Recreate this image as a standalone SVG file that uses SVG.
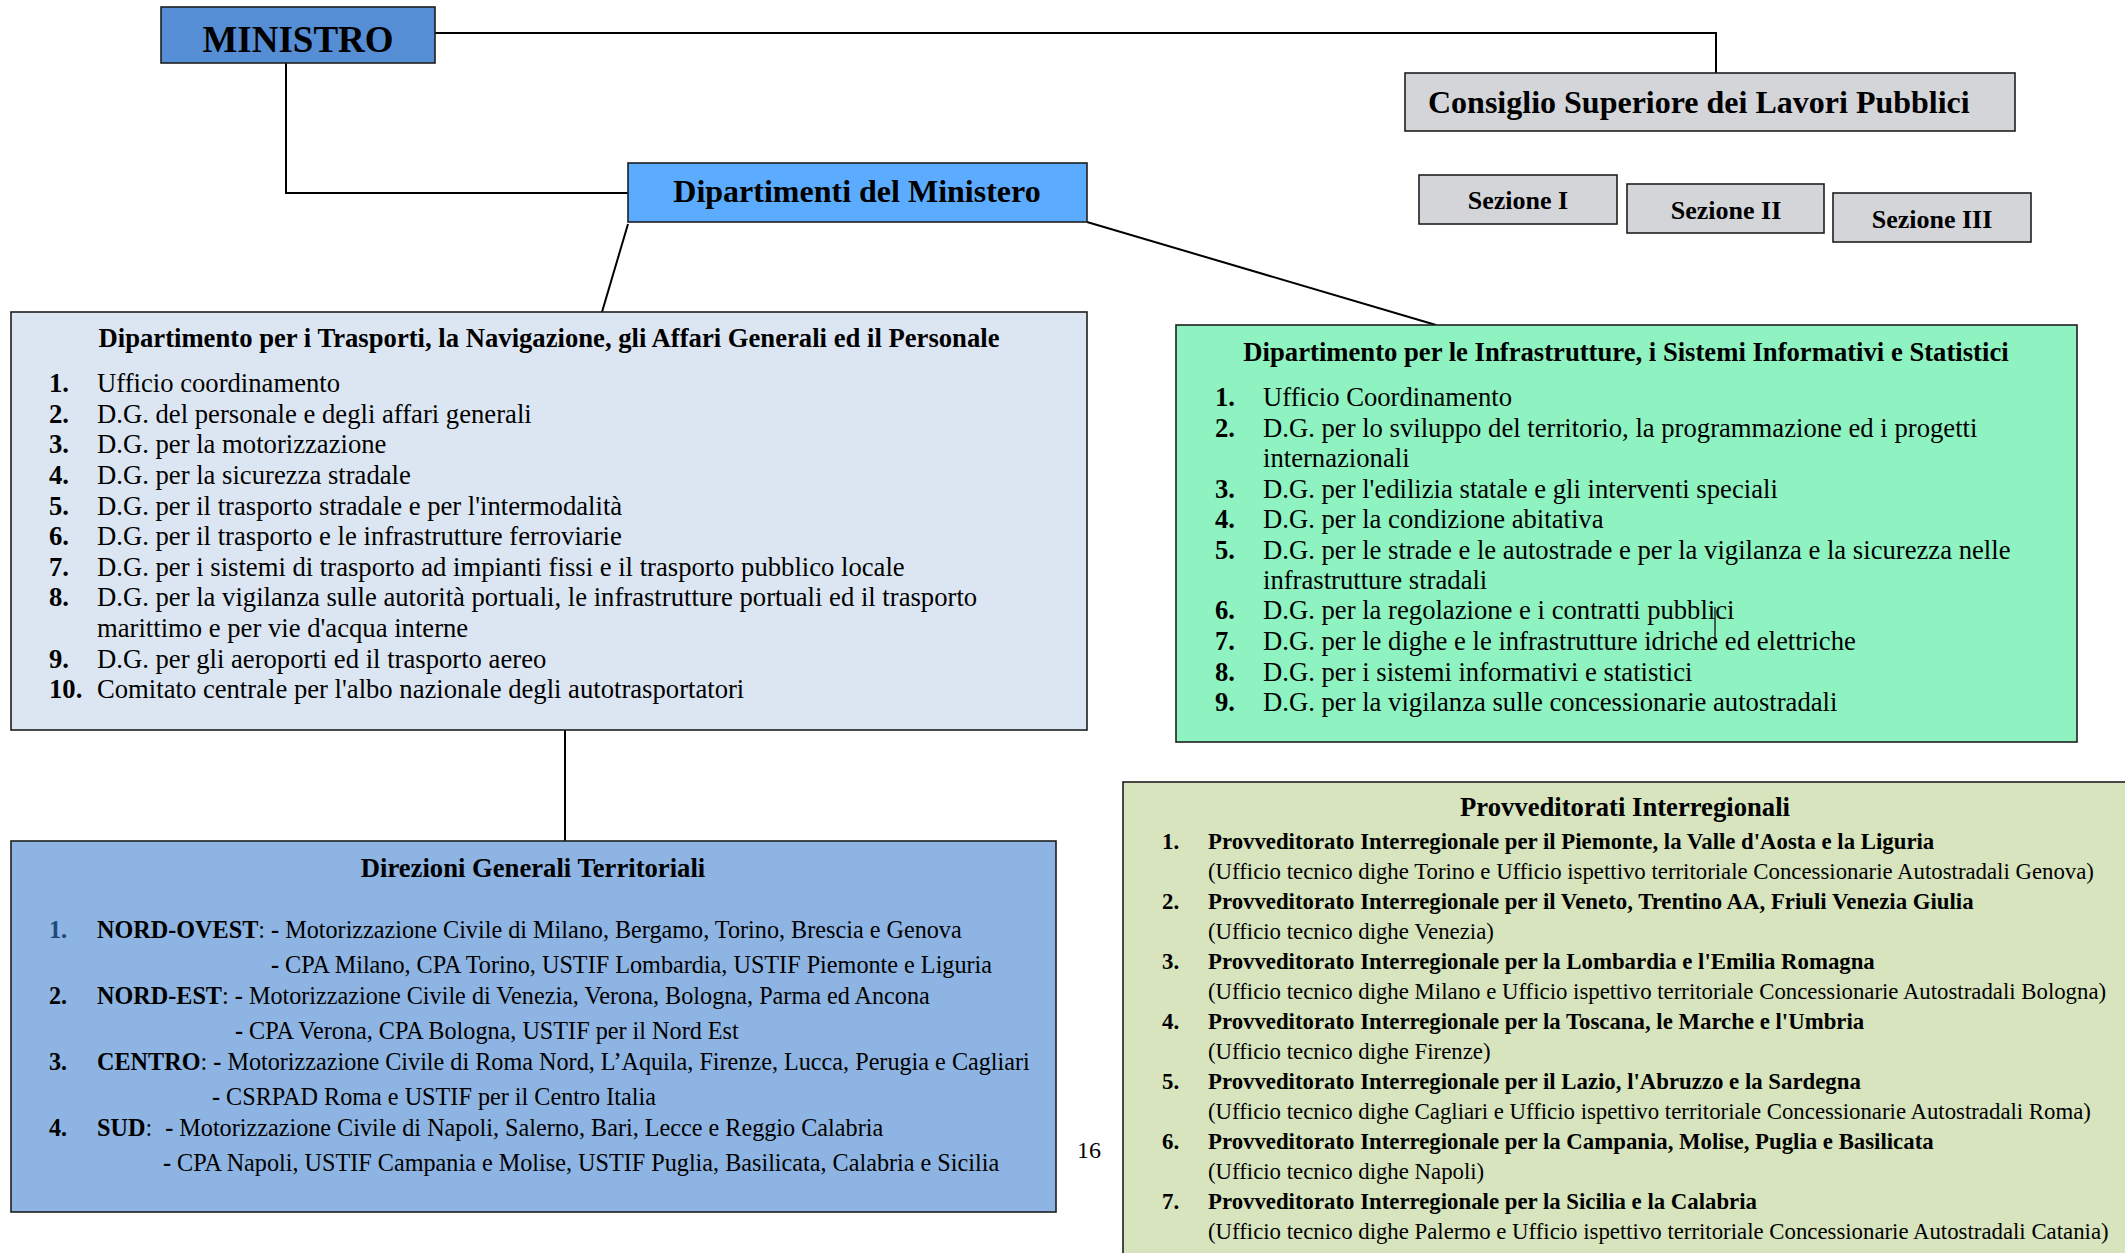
<svg xmlns="http://www.w3.org/2000/svg" width="2125" height="1253" viewBox="0 0 2125 1253">
<style>
text{font-family:"Liberation Serif","Times New Roman",serif;fill:#000}
.box{stroke:#1e1e1e;stroke-width:1.6}
.b{font-weight:bold}
.conn{stroke:#000;stroke-width:2;fill:none}
.li{font-size:26.67px}
.ttl{font-size:26.67px;font-weight:bold}
.dg{font-size:24.2px}
.pv{font-size:22.8px}
</style>
<rect width="2125" height="1253" fill="#fff"/>
<g id="connectors">
<polyline class="conn" points="435,33 1716,33 1716,73"/>
<polyline class="conn" points="286,63 286,193 628,193"/>
<line class="conn" x1="628" y1="224" x2="602" y2="312" stroke-width="1.6"/>
<line class="conn" x1="1087" y1="222" x2="1436" y2="325" stroke-width="1.6"/>
<line class="conn" x1="565" y1="730" x2="565" y2="841"/>
</g>
<g id="ministro">
<rect class="box" x="161" y="7" width="274" height="56" fill="#558ED5"/>
<text class="b" x="298" y="52" font-size="37" text-anchor="middle">MINISTRO</text>
</g>
<g id="consiglio">
<rect class="box" x="1405" y="73" width="610" height="58" fill="#D3D5D9"/>
<text class="b" x="1428" y="113" font-size="32">Consiglio Superiore dei Lavori Pubblici</text>
</g>
<g id="sezione1">
<rect class="box" x="1419" y="175" width="198" height="49" fill="#D3D5D9"/>
<text class="b" x="1518" y="209" font-size="26" text-anchor="middle">Sezione I</text>
</g>
<g id="sezione2">
<rect class="box" x="1627" y="184" width="197" height="49" fill="#D3D5D9"/>
<text class="b" x="1726" y="219" font-size="26" text-anchor="middle">Sezione II</text>
</g>
<g id="sezione3">
<rect class="box" x="1833" y="193" width="198" height="49" fill="#D3D5D9"/>
<text class="b" x="1932" y="228" font-size="26" text-anchor="middle">Sezione III</text>
</g>
<g id="dipartimenti">
<rect class="box" x="628" y="163" width="459" height="59" fill="#5BACFF"/>
<text class="b" x="857" y="202" font-size="32" text-anchor="middle">Dipartimenti del Ministero</text>
</g>
<g id="dip-trasporti">
<rect class="box" x="11" y="312" width="1076" height="418" fill="#DCE6F2"/>
<text class="ttl" x="549" y="347" text-anchor="middle">Dipartimento per i Trasporti, la Navigazione, gli Affari Generali ed il Personale</text>
<g class="li">
<text class="b" x="49" y="392">1.</text><text x="97" y="392">Ufficio coordinamento</text>
<text class="b" x="49" y="422.5">2.</text><text x="97" y="422.5">D.G. del personale e degli affari generali</text>
<text class="b" x="49" y="453">3.</text><text x="97" y="453">D.G. per la motorizzazione</text>
<text class="b" x="49" y="484">4.</text><text x="97" y="484">D.G. per la sicurezza stradale</text>
<text class="b" x="49" y="514.5">5.</text><text x="97" y="514.5">D.G. per il trasporto stradale e per l'intermodalità</text>
<text class="b" x="49" y="545">6.</text><text x="97" y="545">D.G. per il trasporto e le infrastrutture ferroviarie</text>
<text class="b" x="49" y="576">7.</text><text x="97" y="576">D.G. per i sistemi di trasporto ad impianti fissi e il trasporto pubblico locale</text>
<text class="b" x="49" y="606">8.</text><text x="97" y="606">D.G. per la vigilanza sulle autorità portuali, le infrastrutture portuali ed il trasporto</text>
<text x="97" y="637">marittimo e per vie d'acqua interne</text>
<text class="b" x="49" y="667.5">9.</text><text x="97" y="667.5">D.G. per gli aeroporti ed il trasporto aereo</text>
<text class="b" x="49" y="698">10.</text><text x="97" y="698">Comitato centrale per l'albo nazionale degli autotrasportatori</text>
</g>
</g>
<g id="dip-infrastrutture">
<rect class="box" x="1176" y="325" width="901" height="417" fill="#8EF3C1"/>
<text class="ttl" x="1626" y="361" text-anchor="middle">Dipartimento per le Infrastrutture, i Sistemi Informativi e Statistici</text>
<g class="li">
<text class="b" x="1215" y="406">1.</text><text x="1263" y="406">Ufficio Coordinamento</text>
<text class="b" x="1215" y="437">2.</text><text x="1263" y="437">D.G. per lo sviluppo del territorio, la programmazione ed i progetti</text>
<text x="1263" y="467">internazionali</text>
<text class="b" x="1215" y="498">3.</text><text x="1263" y="498">D.G. per l'edilizia statale e gli interventi speciali</text>
<text class="b" x="1215" y="528">4.</text><text x="1263" y="528">D.G. per la condizione abitativa</text>
<text class="b" x="1215" y="559">5.</text><text x="1263" y="559">D.G. per le strade e le autostrade e per la vigilanza e la sicurezza nelle</text>
<text x="1263" y="589">infrastrutture stradali</text>
<text class="b" x="1215" y="619">6.</text><text x="1263" y="619">D.G. per la regolazione e i contratti pubblici</text>
<text class="b" x="1215" y="650">7.</text><text x="1263" y="650">D.G. per le dighe e le infrastrutture idriche ed elettriche</text>
<text class="b" x="1215" y="681">8.</text><text x="1263" y="681">D.G. per i sistemi informativi e statistici</text>
<text class="b" x="1215" y="711">9.</text><text x="1263" y="711">D.G. per la vigilanza sulle concessionarie autostradali</text>
</g>
<line x1="1715" y1="607" x2="1715" y2="643" stroke="#000" stroke-width="1.2"/>
</g>
<g id="direzioni">
<rect class="box" x="11" y="841" width="1045" height="371" fill="#8DB4E2"/>
<text class="ttl" x="533" y="877" text-anchor="middle">Direzioni Generali Territoriali</text>
<g class="dg">
<text class="b" x="49" y="938" style="fill:#1F497D">1.</text>
<text x="97" y="938"><tspan class="b">NORD-OVEST</tspan>: <tspan class="b">-</tspan> Motorizzazione Civile di Milano, Bergamo, Torino, Brescia e Genova</text>
<text x="271" y="973"><tspan class="b">-</tspan> CPA Milano, CPA Torino, USTIF Lombardia, USTIF Piemonte e Liguria</text>
<text class="b" x="49" y="1004">2.</text>
<text x="97" y="1004"><tspan class="b">NORD-EST</tspan>: <tspan class="b">-</tspan> Motorizzazione Civile di Venezia, Verona, Bologna, Parma ed Ancona</text>
<text x="235" y="1039"><tspan class="b">-</tspan> CPA Verona, CPA Bologna, USTIF per il Nord Est</text>
<text class="b" x="49" y="1070">3.</text>
<text x="97" y="1070"><tspan class="b">CENTRO</tspan>: <tspan class="b">-</tspan> Motorizzazione Civile di Roma Nord, L’Aquila, Firenze, Lucca, Perugia e Cagliari</text>
<text x="212" y="1105"><tspan class="b">-</tspan> CSRPAD Roma e USTIF per il Centro Italia</text>
<text class="b" x="49" y="1136">4.</text>
<text x="97" y="1136"><tspan class="b">SUD</tspan>: <tspan class="b" dx="7">-</tspan> Motorizzazione Civile di Napoli, Salerno, Bari, Lecce e Reggio Calabria</text>
<text x="163" y="1171"><tspan class="b">-</tspan> CPA Napoli, USTIF Campania e Molise, USTIF Puglia, Basilicata, Calabria e Sicilia</text>
</g>
</g>
<text x="1077" y="1158" font-size="24">16</text>
<g id="provveditorati">
<rect class="box" x="1123" y="782" width="1010" height="480" fill="#D7E4BD"/>
<text class="ttl" x="1625" y="816" text-anchor="middle">Provveditorati Interregionali</text>
<g class="pv">
<text class="b" x="1162" y="849">1.</text><text class="b" x="1208" y="849">Provveditorato Interregionale per il Piemonte, la Valle d'Aosta e la Liguria</text>
<text x="1208" y="879">(Ufficio tecnico dighe Torino e Ufficio ispettivo territoriale Concessionarie Autostradali Genova)</text>
<text class="b" x="1162" y="909">2.</text><text class="b" x="1208" y="909">Provveditorato Interregionale per il Veneto, Trentino AA, Friuli Venezia Giulia</text>
<text x="1208" y="939">(Ufficio tecnico dighe Venezia)</text>
<text class="b" x="1162" y="969">3.</text><text class="b" x="1208" y="969">Provveditorato Interregionale per la Lombardia e l'Emilia Romagna</text>
<text x="1208" y="999">(Ufficio tecnico dighe Milano e Ufficio ispettivo territoriale Concessionarie Autostradali Bologna)</text>
<text class="b" x="1162" y="1029">4.</text><text class="b" x="1208" y="1029">Provveditorato Interregionale per la Toscana, le Marche e l'Umbria</text>
<text x="1208" y="1059">(Ufficio tecnico dighe Firenze)</text>
<text class="b" x="1162" y="1089">5.</text><text class="b" x="1208" y="1089">Provveditorato Interregionale per il Lazio, l'Abruzzo e la Sardegna</text>
<text x="1208" y="1119">(Ufficio tecnico dighe Cagliari e Ufficio ispettivo territoriale Concessionarie Autostradali Roma)</text>
<text class="b" x="1162" y="1149">6.</text><text class="b" x="1208" y="1149">Provveditorato Interregionale per la Campania, Molise, Puglia e Basilicata</text>
<text x="1208" y="1179">(Ufficio tecnico dighe Napoli)</text>
<text class="b" x="1162" y="1209">7.</text><text class="b" x="1208" y="1209">Provveditorato Interregionale per la Sicilia e la Calabria</text>
<text x="1208" y="1239">(Ufficio tecnico dighe Palermo e Ufficio ispettivo territoriale Concessionarie Autostradali Catania)</text>
</g>
</g>
</svg>
